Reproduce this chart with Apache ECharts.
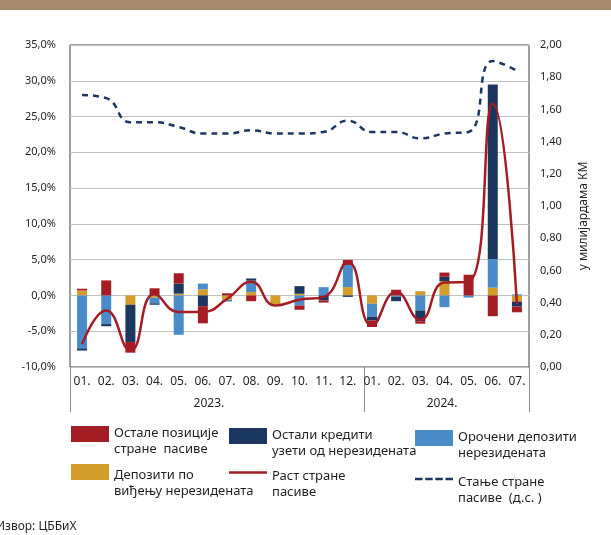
<!DOCTYPE html>
<html>
<head>
<meta charset="utf-8">
<script src="https://cdn.jsdelivr.net/npm/echarts@6/dist/echarts.min.js"></script>
<style>
html,body{margin:0;padding:0;background:#fff;}
#c{width:611px;height:535px;}
</style>
</head>
<body>
<div id="c"></div>
<script>
var months = ['01.','02.','03.','04.','05.','06.','07.','08.','09.','10.','11.','12.','01.','02.','03.','04.','05.','06.','07.'];
var years = ['2023.','2024.'];
var yearCenters = [5.75, 15.4];
var yearBounds = [0, 12.18, 19];

// contributions, p.p.
var depDemand = [0.7, 0, -1.3, -0.3, 0.25, 0.85, -0.6, 0.47, -1.2, 0.24, 0, 1.16, -1.16, 0, 0.6, 2.0, 0, 1.08, -0.85];
var depTerm   = [-7.4, -4.0, 0, -0.8, -5.5, 0.8, -0.25, 1.6, 0, -1.4, 1.16, 3.1, -1.8, -0.2, -2.1, -1.64, -0.3, 4.0, 0.15];
var loans     = [-0.3, -0.3, -5.2, -0.2, 1.4, -1.5, 0, 0.3, 0, 1.06, -0.7, -0.2, -0.55, -0.6, -1.5, 0.6, 0, 24.4, -0.7];
var otherPos  = [0.24, 2.1, -1.5, 1.0, 1.45, -2.4, 0.3, -0.8, 0, -0.6, -0.3, 0.7, -0.9, 0.8, -0.35, 0.6, 2.9, -2.9, -0.8];
var growth    = [-6.8, -2.1, -7.7, 0.2, -2.3, -2.3, -0.5, 1.9, -1.4, -0.6, -0.2, 4.7, -4.2, 0.5, -3.4, 1.8, 1.9, 26.8, -1.2];
var stock     = [1.69, 1.67, 1.52, 1.52, 1.49, 1.45, 1.45, 1.47, 1.45, 1.45, 1.46, 1.53, 1.46, 1.46, 1.42, 1.45, 1.46, 1.90, 1.84];

var names = {
  other: 'Остале позиције\nстране  пасиве',
  loans: 'Остали кредити\nузети од нерезидената',
  term: 'Орочени депозити\nнерезидената',
  demand: 'Депозити по\nвиђењу нерезидената',
  growth: 'Раст стране\nпасиве',
  stock: 'Стање стране\nпасиве  (д.с. )'
};
var RED = '#a51d24', NAVY = '#1c375f', BLUE = '#4a8bc9', YEL = '#d39d2b';
var FONT = 'Noto Sans';
var LINE_ICON = 'path://M0,0H38V2.6H0Z';
var DASH_ICON = 'path://M0,0H7.5V2.6H0Z M10.2,0H17.7V2.6H10.2Z M20.3,0H27.8V2.6H20.3Z M30.5,0H38V2.6H30.5Z';

function lg(name, left, top, spacer, icon) {
  var d = icon ? {name: name, icon: icon} : {name: name, icon: 'rect'};
  return {
    data: [d], left: left, top: top, padding: 0,
    itemWidth: 38, itemHeight: 16, itemGap: 10,
    selectedMode: false,
    formatter: function(n){ return '{s| }\n' + n; },
    textStyle: {fontFamily: FONT, fontSize: 13, color: '#231f20', lineHeight: 16,
      rich: {s: {fontSize: 2, lineHeight: spacer}}}
  };
}

var chart = echarts.init(document.getElementById('c'), null, {renderer: 'canvas'});
var bar = function(name, data, color) {
  return {name: name, type: 'bar', stack: 'a', data: data, barWidth: 10,
    itemStyle: {color: color}, emphasis: {disabled: true}};
};
chart.setOption({
  animation: false,
  textStyle: {fontFamily: FONT},
  graphic: [
    {type: 'rect', shape: {x: 0, y: 0, width: 611, height: 10}, style: {fill: '#a48b6f'}},
    {type: 'text', left: -4, top: 521, style: {text: 'Извор: ЦББиХ', font: '12px "Noto Sans"', fill: '#231f20'}}
  ],
  grid: {left: 70, right: 82, top: 45, bottom: 168, show: true, borderColor: '#404040', borderWidth: 1, containLabel: false},
  legend: [
    lg(names.other, 71, 411, 14),
    lg(names.loans, 229, 413, 14),
    lg(names.term, 415, 415, 14),
    lg(names.demand, 71, 445, 22),
    lg(names.growth, 229, 445, 23, LINE_ICON),
    lg(names.stock, 415, 452, 22, DASH_ICON)
  ],
  xAxis: [
    {type: 'category', data: months, boundaryGap: true,
     axisLine: {show: false}, axisTick: {show: false},
     axisLabel: {margin: 9, fontSize: 12, color: '#231f20', interval: 0}},
    {type: 'value', min: 0, max: 19, position: 'bottom',
     axisLine: {show: false}, splitLine: {show: false},
     axisTick: {show: true, customValues: yearBounds, length: 45, lineStyle: {color: '#8a8a8a'}},
     axisLabel: {customValues: yearCenters, margin: 31, fontSize: 12, color: '#231f20',
       formatter: function(v){ return v < 12 ? years[0] : years[1]; }}}
  ],
  yAxis: [
    {type: 'value', min: -10, max: 35, interval: 5,
     axisLine: {show: false}, axisTick: {show: false},
     splitLine: {lineStyle: {color: '#c2c2c2', width: 1}},
     axisLabel: {margin: 14, fontSize: 11, color: '#231f20',
       formatter: function(v){ return v.toFixed(1).replace('.', ',') + '%'; }}},
    {type: 'value', min: 0, max: 2, interval: 0.2, position: 'right',
     axisLine: {show: false}, axisTick: {show: false}, splitLine: {show: false},
     axisLabel: {margin: 11, fontSize: 11, color: '#231f20',
       formatter: function(v){ return v.toFixed(2).replace('.', ','); }},
     name: 'у милијардама КМ', nameLocation: 'middle', nameRotate: 90, nameGap: 49,
     nameTextStyle: {fontSize: 12, color: '#231f20', padding: [0, 20, 0, 0]}}
  ],
  series: [
    bar(names.demand, depDemand, YEL),
    bar(names.term, depTerm, BLUE),
    bar(names.loans, loans, NAVY),
    bar(names.other, otherPos, RED),
    {name: names.growth, type: 'line', data: growth, smooth: 0.5, symbol: 'none', z: 5,
     lineStyle: {color: RED, width: 2.5}, itemStyle: {color: RED}},
    {name: names.stock, type: 'line', yAxisIndex: 1, data: stock, smooth: 0.5, symbol: 'none', z: 5,
     lineStyle: {color: NAVY, width: 2.5, type: [6, 5]}, itemStyle: {color: NAVY}}
  ]
});
</script>
</body>
</html>
